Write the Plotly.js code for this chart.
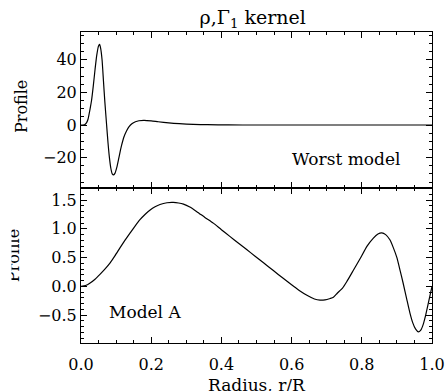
<!DOCTYPE html>
<html>
<head>
<meta charset="utf-8">
<script src="https://cdn.plot.ly/plotly-3.0.1.min.js"></script>
<style>html,body{margin:0;padding:0;background:#fff;}#chart{width:447px;height:391px;}</style>
</head>
<body>
<div id="chart"></div>
<script>
// Upper panel: worst model kernel profile
var worstR = [0, 0.01, 0.016, 0.02, 0.026, 0.03, 0.035, 0.04, 0.045, 0.05, 0.053, 0.056, 0.06, 0.064, 0.068, 0.073, 0.077, 0.081, 0.085, 0.089, 0.093, 0.097, 0.102, 0.108, 0.115, 0.122, 0.13, 0.137, 0.145, 0.155, 0.165, 0.18, 0.2, 0.22, 0.25, 0.28, 0.32, 0.36, 0.42, 0.5, 0.6, 0.7, 0.8, 0.9, 1.0];
var worstProfile = [0, 0.1, 1.5, 3.5, 10, 15, 24, 34, 43, 48.5, 49.4, 47, 40, 27, 14, 0, -11, -20, -26.5, -30, -30.6, -29.5, -26, -20, -13, -7.5, -3.5, -1, 0.8, 2.0, 2.6, 2.8, 2.5, 2.0, 1.3, 0.8, 0.4, 0.2, 0.05, 0, 0, 0, 0, 0, 0];

// Lower panel: Model A kernel profile
var modelAR = [0, 0.013, 0.026, 0.04, 0.054, 0.068, 0.083, 0.097, 0.111, 0.125, 0.14, 0.154, 0.168, 0.183, 0.197, 0.211, 0.225, 0.245, 0.263, 0.278, 0.292, 0.31, 0.33, 0.353, 0.377, 0.4, 0.424, 0.448, 0.472, 0.496, 0.52, 0.548, 0.576, 0.6, 0.624, 0.645, 0.665, 0.681, 0.695, 0.71, 0.719, 0.73, 0.745, 0.757, 0.776, 0.795, 0.815, 0.833, 0.846, 0.857, 0.868, 0.88, 0.89, 0.9, 0.909, 0.918, 0.928, 0.937, 0.945, 0.953, 0.961, 0.968, 0.975, 0.982, 0.99, 1.0];
var modelAProfile = [0, 0.015, 0.06, 0.125, 0.21, 0.30, 0.41, 0.535, 0.67, 0.80, 0.93, 1.05, 1.16, 1.255, 1.33, 1.385, 1.425, 1.455, 1.46, 1.45, 1.43, 1.38, 1.30, 1.20, 1.10, 0.985, 0.87, 0.755, 0.64, 0.525, 0.41, 0.275, 0.14, 0.03, -0.08, -0.16, -0.22, -0.24, -0.235, -0.21, -0.19, -0.12, -0.03, 0.08, 0.28, 0.48, 0.70, 0.84, 0.91, 0.93, 0.90, 0.81, 0.67, 0.50, 0.28, 0.05, -0.22, -0.46, -0.63, -0.74, -0.79, -0.76, -0.66, -0.50, -0.28, 0.0];

var xTickVals = [0, 0.2, 0.4, 0.6, 0.8, 1.0];
var upperYTicks = [-20, 0, 20, 40];
var lowerYTicks = [-0.5, 0.0, 0.5, 1.0, 1.5];

var FONT = 'DejaVu Serif, serif';
var axisCommon = {
  showline: true, linecolor: '#000', linewidth: 1, mirror: 'allticks',
  ticks: 'inside', ticklen: 6, tickwidth: 1, tickcolor: '#000',
  showgrid: false, zeroline: false,
  tickfont: {family: FONT, size: 16, color: '#000'}
};
function ax(extra) { return Object.assign({}, axisCommon, extra); }

var traces = [
  {x: worstR, y: worstProfile, xaxis: 'x2', yaxis: 'y2', type: 'scatter', mode: 'lines',
   line: {color: '#000', width: 1.2, shape: 'spline', smoothing: 0.6}, hoverinfo: 'skip'},
  {x: modelAR, y: modelAProfile, xaxis: 'x', yaxis: 'y', type: 'scatter', mode: 'lines',
   line: {color: '#000', width: 1.2, shape: 'spline', smoothing: 0.5}, hoverinfo: 'skip'}
];

var layout = {
  width: 447, height: 391,
  margin: {l: 81, r: 15, t: 32, b: 48},
  paper_bgcolor: '#fff', plot_bgcolor: '#fff',
  showlegend: false,
  font: {family: FONT, color: '#000'},
  title: {text: 'ρ,Γ<sub>1</sub> kernel', font: {family: FONT, size: 19, color: '#000'},
          xref: 'paper', x: 0.489, xanchor: 'center', yref: 'container', y: 0.955, yanchor: 'middle'},
  xaxis: ax({domain: [0, 1], anchor: 'y', range: [0, 1], tickvals: xTickVals, tickformat: '.1f',
    ticklabelstandoff: 7, minor: {dtick: 0.05, ticks: 'inside', ticklen: 3, tickcolor: '#000'}}),
  yaxis: ax({domain: [0, 0.5], anchor: 'x', range: [-0.985, 1.72], tickvals: lowerYTicks, tickformat: '.1f',
    minor: {dtick: 0.1, ticks: 'inside', ticklen: 3, tickcolor: '#000'}}),
  xaxis2: ax({domain: [0, 1], anchor: 'y2', range: [0, 1], tickvals: xTickVals, showticklabels: false,
    minor: {dtick: 0.05, ticks: 'inside', ticklen: 3, tickcolor: '#000'}}),
  yaxis2: ax({domain: [0.5, 1], anchor: 'x2', range: [-38.3, 57], tickvals: upperYTicks,
    minor: {dtick: 5, ticks: 'inside', ticklen: 3, tickcolor: '#000'}}),
  annotations: [
    {text: 'Profile', textangle: -90, xref: 'paper', yref: 'paper', x: -0.171, y: 0.762,
     xanchor: 'center', yanchor: 'middle', showarrow: false, font: {family: FONT, size: 16, color: '#000'}},
    {text: 'Profile', textangle: -90, xref: 'paper', yref: 'paper', x: -0.194, y: 0.282,
     xanchor: 'center', yanchor: 'middle', showarrow: false, font: {family: FONT, size: 16, color: '#000'}},
    {text: ' ', xref: 'paper', yref: 'paper', x: -0.2165, y: 0.282, xanchor: 'center', yanchor: 'middle',
     width: 10, height: 90, bgcolor: '#fff', showarrow: false, font: {size: 10}},
    {text: 'Radius, r/R', xref: 'paper', yref: 'paper', x: 0.5, y: -0.135, xanchor: 'center', yanchor: 'middle',
     showarrow: false, font: {family: FONT, size: 17, color: '#000'}},
    {text: 'Worst model', xref: 'x2', yref: 'y2', x: 0.754, y: -21, xanchor: 'center', yanchor: 'middle',
     showarrow: false, font: {family: FONT, size: 17, color: '#000'}},
    {text: 'Model A', xref: 'x', yref: 'y', x: 0.182, y: -0.45, xanchor: 'center', yanchor: 'middle',
     showarrow: false, font: {family: FONT, size: 17, color: '#000'}}
  ]
};

Plotly.newPlot('chart', traces, layout, {staticPlot: true, displayModeBar: false});
</script>
</body>
</html>
